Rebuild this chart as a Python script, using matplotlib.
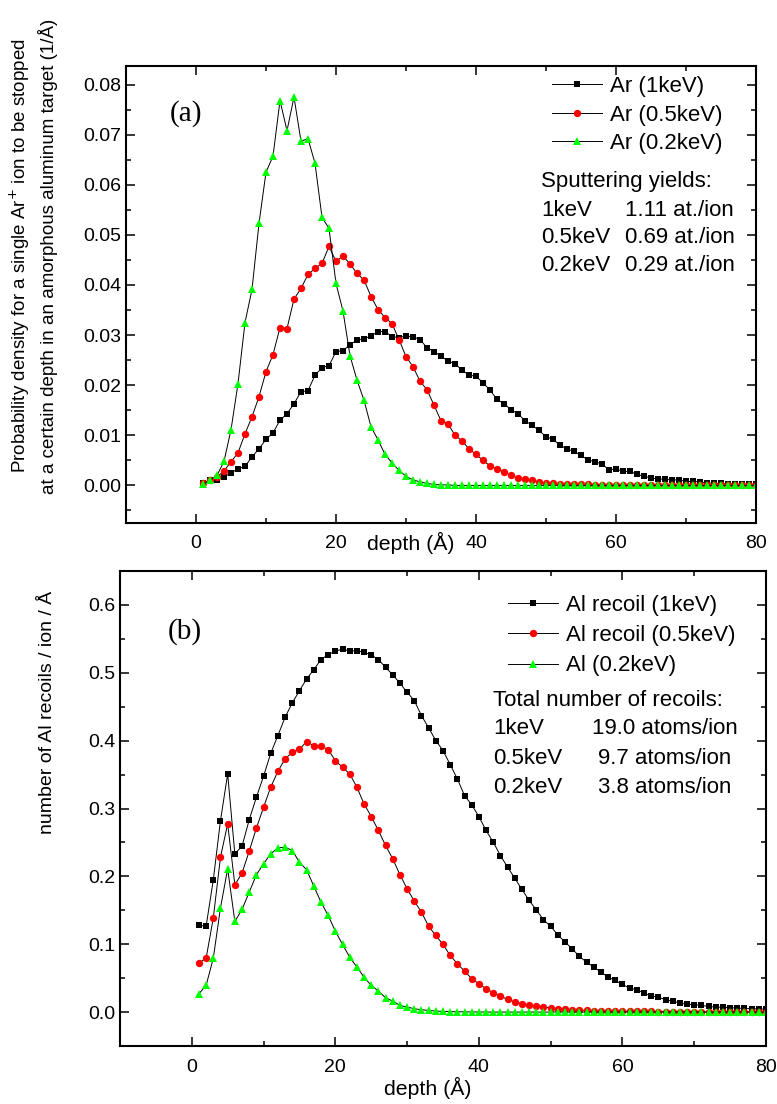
import numpy as np
import matplotlib
matplotlib.use('Agg')
import matplotlib.pyplot as plt
from matplotlib.ticker import MultipleLocator

plt.rcParams['font.family'] = ['Liberation Sans', 'DejaVu Sans']

# depth grid (Angstrom)
depth = np.arange(1, 81)

# (a) probability density of stopped Ar ions (1/A)
ar_1kev = [
    0.0005, 0.0010, 0.0011, 0.0017, 0.0025, 0.0033, 0.0038, 0.0057, 0.0073, 0.0092,
    0.0105, 0.0130, 0.0143, 0.0163, 0.0187, 0.0189, 0.0220, 0.0235, 0.0239, 0.0267,
    0.0269, 0.0281, 0.0290, 0.0293, 0.0298, 0.0307, 0.0307, 0.0297, 0.0295, 0.0298,
    0.0297, 0.0291, 0.0275, 0.0267, 0.0258, 0.0248, 0.0243, 0.0230, 0.0220, 0.0218,
    0.0205, 0.0190, 0.0172, 0.0163, 0.0151, 0.0143, 0.0129, 0.0120, 0.0110, 0.0097,
    0.0092, 0.0080, 0.0073, 0.0068, 0.0060, 0.0051, 0.0047, 0.0043, 0.0031, 0.0033,
    0.0028, 0.0028, 0.0022, 0.0018, 0.0015, 0.0013, 0.0012, 0.0011, 0.0011, 0.0008,
    0.0008, 0.0007, 0.0005, 0.0004, 0.0004, 0.0003, 0.0003, 0.0002, 0.0002, 0.0002,
]
ar_05kev = [
    0.0005, 0.0011, 0.0017, 0.0029, 0.0047, 0.0065, 0.0103, 0.0137, 0.0177, 0.0227,
    0.0261, 0.0315, 0.0313, 0.0372, 0.0393, 0.0421, 0.0433, 0.0443, 0.0477, 0.0447,
    0.0458, 0.0442, 0.0423, 0.0410, 0.0377, 0.0351, 0.0335, 0.0323, 0.0291, 0.0257,
    0.0237, 0.0208, 0.0191, 0.0160, 0.0129, 0.0123, 0.0100, 0.0089, 0.0073, 0.0062,
    0.0050, 0.0039, 0.0033, 0.0027, 0.0020, 0.0015, 0.0012, 0.0010, 0.0007, 0.0005,
    0.0004, 0.0003, 0.0003, 0.0002, 0.0002, 0.0002, 0.0001, 0.0001, 0.0001, 0.0001,
    0.0001, 0.0001, 0.0001, 0.0001, 0.0000, 0.0000, 0.0000, 0.0000, 0.0000, 0.0000,
    0.0000, 0.0000, 0.0000, 0.0000, 0.0000, 0.0000, 0.0000, 0.0000, 0.0000, 0.0000,
]
ar_02kev = [
    0.0003, 0.0010, 0.0020, 0.0048, 0.0111, 0.0203, 0.0325, 0.0391, 0.0523, 0.0625,
    0.0657, 0.0768, 0.0708, 0.0775, 0.0687, 0.0692, 0.0643, 0.0535, 0.0513, 0.0403,
    0.0348, 0.0259, 0.0210, 0.0170, 0.0117, 0.0091, 0.0062, 0.0045, 0.0030, 0.0018,
    0.0011, 0.0007, 0.0004, 0.0002, 0.0001, 0.0001, 0.0000, 0.0000, 0.0000, 0.0000,
    0.0000, 0.0000, 0.0000, 0.0000, 0.0000, 0.0000, 0.0000, 0.0000, 0.0000, 0.0000,
    0.0000, 0.0000, 0.0000, 0.0000, 0.0000, 0.0000, 0.0000, 0.0000, 0.0000, 0.0000,
    0.0000, 0.0000, 0.0000, 0.0000, 0.0000, 0.0000, 0.0000, 0.0000, 0.0000, 0.0000,
    0.0000, 0.0000, 0.0000, 0.0000, 0.0000, 0.0000, 0.0000, 0.0000, 0.0000, 0.0000,
]

# (b) number of Al recoils / ion / A
al_1kev = [
    0.1276, 0.1267, 0.1949, 0.2823, 0.3510, 0.2332, 0.2445, 0.2833, 0.3166, 0.3476,
    0.3814, 0.4075, 0.4345, 0.4556, 0.4737, 0.4909, 0.5047, 0.5194, 0.5268, 0.5317,
    0.5351, 0.5317, 0.5327, 0.5302, 0.5263, 0.5194, 0.5080, 0.4970, 0.4845, 0.4713,
    0.4590, 0.4369, 0.4188, 0.4001, 0.3854, 0.3648, 0.3436, 0.3191, 0.3054, 0.2882,
    0.2676, 0.2504, 0.2307, 0.2135, 0.1973, 0.1807, 0.1645, 0.1507, 0.1360, 0.1262,
    0.1139, 0.1031, 0.0933, 0.0820, 0.0736, 0.0663, 0.0589, 0.0515, 0.0466, 0.0407,
    0.0353, 0.0329, 0.0280, 0.0236, 0.0221, 0.0182, 0.0162, 0.0133, 0.0113, 0.0108,
    0.0098, 0.0083, 0.0074, 0.0069, 0.0064, 0.0059, 0.0054, 0.0049, 0.0044, 0.0044,
]
al_05kev = [
    0.0722, 0.0795, 0.1389, 0.2283, 0.2774, 0.1875, 0.2047, 0.2371, 0.2710, 0.3019,
    0.3314, 0.3549, 0.3731, 0.3829, 0.3873, 0.3986, 0.3922, 0.3922, 0.3868, 0.3706,
    0.3608, 0.3510, 0.3314, 0.3068, 0.2882, 0.2676, 0.2455, 0.2258, 0.2023, 0.1816,
    0.1635, 0.1473, 0.1262, 0.1129, 0.0997, 0.0835, 0.0712, 0.0604, 0.0491, 0.0417,
    0.0344, 0.0285, 0.0236, 0.0187, 0.0147, 0.0123, 0.0098, 0.0088, 0.0074, 0.0064,
    0.0049, 0.0039, 0.0034, 0.0029, 0.0025, 0.0022, 0.0019, 0.0017, 0.0015, 0.0013,
    0.0012, 0.0011, 0.0010, 0.0009, 0.0008, 0.0007, 0.0006, 0.0005, 0.0005, 0.0004,
    0.0004, 0.0003, 0.0003, 0.0003, 0.0002, 0.0002, 0.0002, 0.0001, 0.0001, 0.0001,
]
al_02kev = [
    0.0270, 0.0393, 0.0795, 0.1537, 0.2111, 0.1335, 0.1512, 0.1767, 0.2023, 0.2185,
    0.2332, 0.2420, 0.2430, 0.2381, 0.2209, 0.2096, 0.1856, 0.1620, 0.1424, 0.1193,
    0.0997, 0.0810, 0.0663, 0.0515, 0.0393, 0.0309, 0.0210, 0.0162, 0.0098, 0.0074,
    0.0049, 0.0034, 0.0025, 0.0015, 0.0010, 0.0007, 0.0005, 0.0003, 0.0002, 0.0001,
    0.0000, 0.0000, 0.0000, 0.0000, 0.0000, 0.0000, 0.0000, 0.0000, 0.0000, 0.0000,
    0.0000, 0.0000, 0.0000, 0.0000, 0.0000, 0.0000, 0.0000, 0.0000, 0.0000, 0.0000,
    0.0000, 0.0000, 0.0000, 0.0000, 0.0000, 0.0000, 0.0000, 0.0000, 0.0000, 0.0000,
    0.0000, 0.0000, 0.0000, 0.0000, 0.0000, 0.0000, 0.0000, 0.0000, 0.0000, 0.0000,
]

labels_a = ['Ar (1keV)', 'Ar (0.5keV)', 'Ar (0.2keV)']
labels_b = ['Al recoil (1keV)', 'Al recoil (0.5keV)', 'Al (0.2keV)']
sputter_lines = [('1keV', '1.11 at./ion'), ('0.5keV', '0.69 at./ion'), ('0.2keV', '0.29 at./ion')]
recoil_lines = [('1keV', '19.0 atoms/ion'), ('0.5keV', '9.7 atoms/ion'), ('0.2keV', '3.8 atoms/ion')]

colors = ['#000000', '#ff0000', '#00ff00']
markers = ['s', 'o', '^']
msizes = [5.0, 5.3, 5.6]

W, H = 777, 1104
fig = plt.figure(figsize=(W / 100, H / 100), dpi=100)


def fx(x):
    return x / W


def fy(y):
    return 1 - y / H


def style_axes(ax, xminor, ymajor, yminor):
    for s in ax.spines.values():
        s.set_linewidth(1.5)
    ax.xaxis.set_major_locator(MultipleLocator(20))
    ax.xaxis.set_minor_locator(MultipleLocator(xminor))
    ax.yaxis.set_major_locator(MultipleLocator(ymajor))
    ax.yaxis.set_minor_locator(MultipleLocator(yminor))
    ax.tick_params(which='both', direction='in', top=True, right=True, width=1.1, labelsize=14)
    ax.tick_params(which='major', length=6.5)
    ax.tick_params(which='minor', length=3.3)
    ax.tick_params(axis='x', pad=9)


def draw_series(ax, series, labels):
    for ys, c, m, ms, lab in zip(series, colors, markers, msizes, labels):
        ax.plot(depth, ys, color='black', lw=0.7, marker=m, ms=ms,
                mfc=c, mec=c, mew=0, label=lab)


# ---- panel (a)
ax1 = fig.add_axes([fx(126), fy(523), fx(756) - fx(126), fy(66) - fy(523)])
draw_series(ax1, [ar_1kev, ar_05kev, ar_02kev], labels_a)
ax1.set_xlim(-10, 80)
ax1.set_ylim(-0.0075, 0.0837)
style_axes(ax1, 10, 0.01, 0.005)
ax1.yaxis.set_major_formatter(plt.FormatStrFormatter('%.2f'))
fig.text(fx(411), fy(543), 'depth (Å)', ha='center', va='center', fontsize=15.3)
fig.text(fx(186), fy(114), '(a)', ha='center', va='center', fontsize=21, family='Liberation Serif')
ax1.legend(loc='upper left', bbox_to_anchor=(0.676, 0.978), frameon=False, fontsize=16,
           handlelength=2.25, handletextpad=0.35, labelspacing=0.34, borderpad=0, borderaxespad=0)
fig.text(fx(541), fy(182), 'Sputtering yields:', ha='left', va='center', fontsize=16)
for i, (e, v) in enumerate(sputter_lines):
    fig.text(fx(541), fy(210 + 27.7 * i), e, ha='left', va='center', fontsize=16)
    fig.text(fx(625), fy(210 + 27.7 * i), v, ha='left', va='center', fontsize=16)
fig.text(fx(33), fy(256),
         'Probability density for a single Ar$^{+}$ ion to be stopped\n'
         'at a certain depth in an amorphous aluminum target (1/Å)',
         rotation=90, ha='center', va='center', multialignment='center',
         fontsize=13.5, linespacing=1.4)

# ---- panel (b)
ax2 = fig.add_axes([fx(120), fy(1046), fx(766) - fx(120), fy(571) - fy(1046)])
draw_series(ax2, [al_1kev, al_05kev, al_02kev], labels_b)
ax2.set_xlim(-10, 80)
ax2.set_ylim(-0.05, 0.65)
style_axes(ax2, 10, 0.1, 0.05)
ax2.yaxis.set_major_formatter(plt.FormatStrFormatter('%.1f'))
fig.text(fx(428), fy(1088), 'depth (Å)', ha='center', va='center', fontsize=15.3)
fig.text(fx(185), fy(632), '(b)', ha='center', va='center', fontsize=21, family='Liberation Serif')
ax2.legend(loc='upper left', bbox_to_anchor=(0.6006, 0.950), frameon=False, fontsize=16,
           handlelength=2.25, handletextpad=0.35, labelspacing=0.42, borderpad=0, borderaxespad=0)
fig.text(fx(493), fy(700), 'Total number of recoils:', ha='left', va='center', fontsize=16)
val_x = [592, 598, 598]
for i, (e, v) in enumerate(recoil_lines):
    fig.text(fx(493), fy(729 + 29.3 * i), e, ha='left', va='center', fontsize=16)
    fig.text(fx(val_x[i]), fy(729 + 29.3 * i), v, ha='left', va='center', fontsize=16)
fig.text(fx(48), fy(712), 'number of Al recoils / ion / Å', rotation=90,
         ha='center', va='center', fontsize=14)

fig.savefig('out.png', dpi=100)
